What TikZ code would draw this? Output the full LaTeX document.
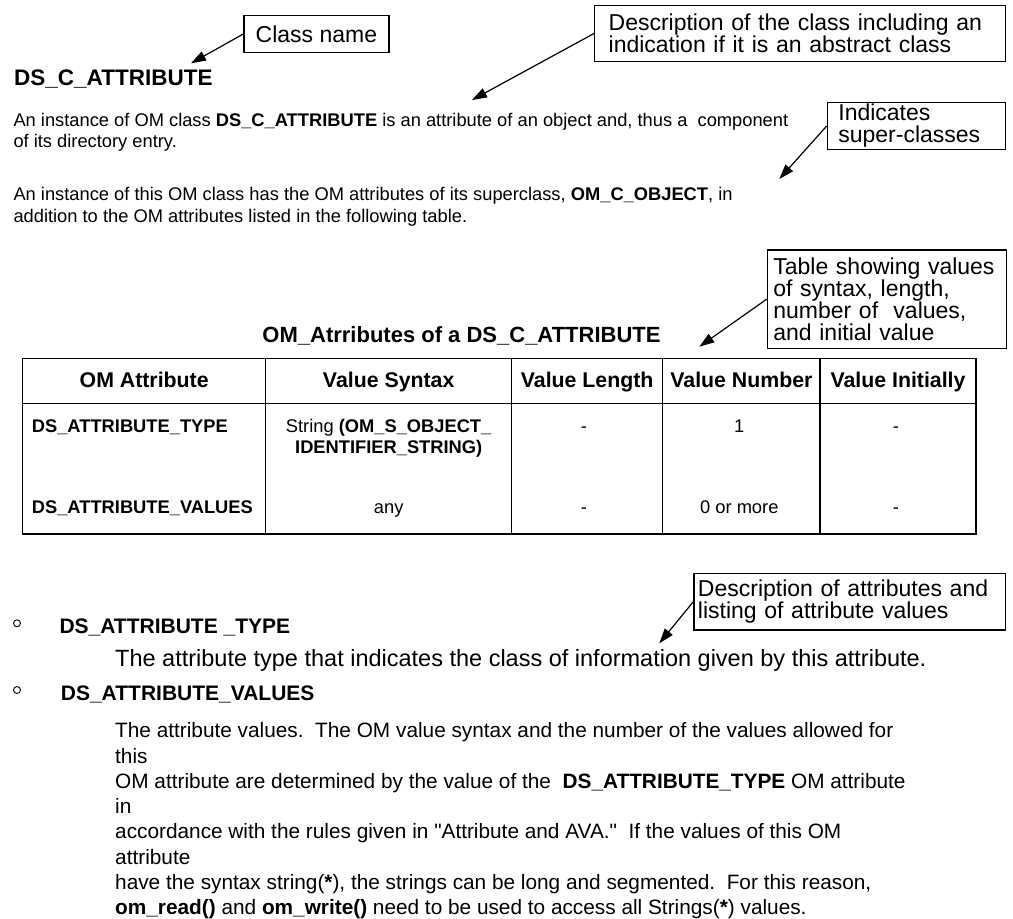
\documentclass[tikz,border=0pt]{standalone}
\usepackage{fontspec}
\setmainfont{Liberation Sans}[Ligatures=TeXOff]
\usetikzlibrary{arrows.meta}

\tikzset{
  callout/.style={draw, line width=1.3pt, anchor=north west, align=left, inner ysep=0pt,
    font=\fontsize{23}{22}\selectfont},
  pointer/.style={-{Triangle[length=15pt,width=10pt]}, line width=1.2pt},
  body/.style={anchor=base west, inner sep=0pt, font=\fontsize{18.3}{20}\selectfont},
  small/.style={anchor=base west, inner sep=0pt, font=\fontsize{20.8}{24}\selectfont},
  grid/.style={line width=1.3pt},
  head/.style={anchor=base, inner sep=0pt, font=\fontsize{21.3}{24}\selectfont\bfseries},
  cell/.style={anchor=base, inner sep=0pt, font=\fontsize{18.3}{20}\selectfont},
  bullet/.style={circle, draw, line width=0.9pt, minimum size=7pt, inner sep=0pt}
}

\begin{document}
\begin{tikzpicture}[x=1pt,y=-1pt]
\useasboundingbox (0,0) rectangle (1013,919);

% class heading and description
\node[anchor=base west, inner sep=0pt, font=\fontsize{22.5}{24}\selectfont\bfseries] (clsname) at (14,85) {DS\_C\_ATTRIBUTE};
\node[body] (para1a) at (13.3,126.7) {An instance of OM class \textbf{DS\_C\_ATTRIBUTE} is an attribute of an object and, thus a\ \ component};
\node[body] (para1b) at (13.3,147.5) {of its directory entry.};
\node[body] (para2a) at (13.3,200) {An instance of this OM class has the OM attributes of its superclass, \textbf{OM\_C\_OBJECT}, in};
\node[body] (para2b) at (13.3,222.5) {addition to the OM attributes listed in the following table.};

% callouts
\node[callout, inner xsep=0pt, minimum width=145pt, minimum height=36.7pt] (cname) at (243.3,15) {Class name};
\node[callout, inner xsep=14pt, text width=383pt, minimum height=55.7pt] (cdesc) at (594,5)
  {Description of the class including an\\indication if it is an abstract class};
\node[callout, inner xsep=11pt, text width=156.3pt, minimum height=47.3pt] (csuper) at (826.7,101.7)
  {Indicates\\super-classes};
\node[callout, inner xsep=6pt, text width=227pt, minimum height=98.4pt] (ctable) at (766.7,249.3)
  {Table showing values\\of syntax, length,\\number of\ \ values,\\and initial value};
\node[callout, inner xsep=4pt, text width=303.7pt, minimum height=56.7pt] (cattr) at (693.3,572.7)
  {Description of attributes and\\listing of attribute values};

\coordinate (cnametip) at (191,63.3);
\coordinate (cdesctip) at (472,100);
\coordinate (csupertip) at (779.3,179);
\coordinate (ctabletip) at (699.3,346.7);
\coordinate (cattrtip) at (659.3,643.3);
\foreach \n in {cname,cdesc,csuper,ctable,cattr}
  \draw[pointer] (\n.west) -- (\n tip);

% table
\node[anchor=base, inner sep=0pt, font=\fontsize{22}{24}\selectfont\bfseries] (tabtitle) at (461.5,342)
  {OM\_Atrributes of a DS\_C\_ATTRIBUTE};
\draw[grid] (22.7,358.3) rectangle (976,534);
\draw[grid] (22.7,403.3) -- (976,403.3);
\foreach \x in {265.7,511.7,662.7,820}
  \draw[grid] (\x,358.3) -- (\x,534);

\foreach \cx/\txt [count=\i] in {144.2/OM Attribute, 388.7/Value Syntax, 587.2/Value Length,
    741.4/Value Number, 898/Value Initially}
  \node[head] (h\i) at (\cx,387.7) {\txt};

\node[cell, anchor=base west] (r1c1) at (31.7,432) {\textbf{DS\_ATTRIBUTE\_TYPE}};
\node[cell] (r1c2) at (388.7,432) {String \textbf{(OM\_S\_OBJECT\_}};
\node[cell] (r1c2b) at (388.7,453) {\textbf{IDENTIFIER\_STRING)}};
\node[cell] (r1c3) at (584,432) {-};
\node[cell] (r1c4) at (739.3,432) {1};
\node[cell] (r1c5) at (896,432) {-};

\node[cell, anchor=base west] (r2c1) at (31.7,513) {\textbf{DS\_ATTRIBUTE\_VALUES}};
\node[cell] (r2c2) at (388.7,513) {any};
\node[cell] (r2c3) at (584,513) {-};
\node[cell] (r2c4) at (739.3,513) {0 or more};
\node[cell] (r2c5) at (896,513) {-};

% attribute list
\node[bullet] (bul1) at (17,623.3) {};
\node[bullet] (bul2) at (17,690) {};
\node[anchor=base west, inner sep=0pt, font=\fontsize{21}{24}\selectfont\bfseries] (atype) at (59.3,633)
  {DS\_ATTRIBUTE \_TYPE};
\node[anchor=base west, inner sep=0pt, font=\fontsize{23.5}{26}\selectfont] (atypetxt) at (115,666)
  {The attribute type that indicates the class of information given by this attribute.};
\node[anchor=base west, inner sep=0pt, font=\fontsize{21}{24}\selectfont\bfseries] (avals) at (60.7,700.7)
  {DS\_ATTRIBUTE\_VALUES};

\foreach \txt [count=\i, evaluate=\i as \yb using 737.7+25.3*(\i-1)] in {
    {The attribute values.\ \ The OM value syntax and the number of the values allowed for},
    {this},
    {OM attribute are determined by the value of the\ \ \textbf{DS\_ATTRIBUTE\_TYPE} OM attribute},
    {in},
    {accordance with the rules given in "Attribute and AVA."\ \ If the values of this OM},
    {attribute},
    {have the syntax string(\textbf{*}), the strings can be long and segmented.\ \ For this reason,},
    {\textbf{om\_read()} and \textbf{om\_write()} need to be used to access all Strings(\textbf{*}) values.}}
  \node[small] (avalstxt\i) at (115,\yb) {\txt};

\end{tikzpicture}
\end{document}
